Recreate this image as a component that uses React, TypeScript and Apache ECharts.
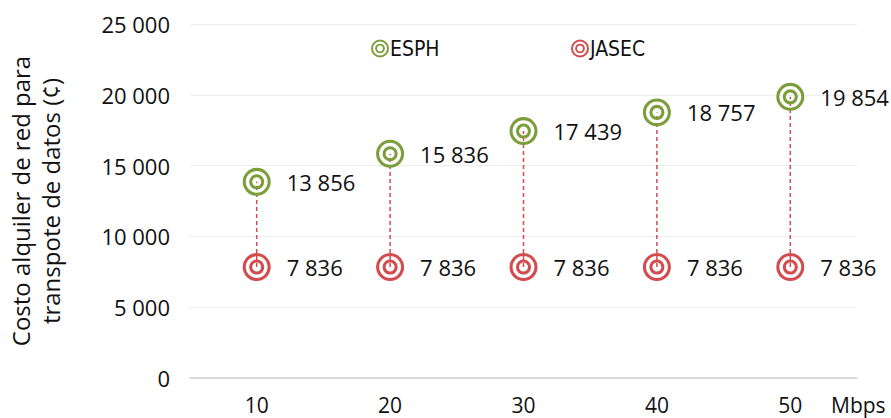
import React, { useEffect, useRef } from "react";
import * as echarts from "echarts";

const categories = ["10", "20", "30", "40", "50"];
const esph = [13856, 15836, 17439, 18757, 19854];
const jasec = [7836, 7836, 7836, 7836, 7836];
const yTicks = [0, 5000, 10000, 15000, 20000, 25000];

const GREEN = "#7b9e3a";
const RED = "#d24b4d";
const FONT = "Open Sans";
const LEGEND_FONT = "'DejaVu Sans Condensed', 'Liberation Sans', sans-serif";

const ringPath =
  "path://M0,50 A50,50 0 1 1 100,50 A50,50 0 1 1 0,50 Z M11,50 A39,39 0 1 0 89,50 A39,39 0 1 0 11,50 Z M23,50 A27,27 0 1 1 77,50 A27,27 0 1 1 23,50 Z M34,50 A16,16 0 1 0 66,50 A16,16 0 1 0 34,50 Z";

const fmt = (v: number) => {
  const s = String(Math.round(v));
  return s.replace(/\B(?=(\d{3})+(?!\d))/g, " ");
};

export default function App() {
  const ref = useRef<HTMLDivElement>(null);
  useEffect(() => {
    if (!ref.current) return;
    const chart = echarts.init(ref.current, undefined, { renderer: "svg" });
    const labelCfg = {
      show: true,
      position: "right" as const,
      distance: 16,
      color: "#111",
      fontSize: 22,
      fontFamily: FONT,
      formatter: (p: any) => fmt(p.value),
    };
    const legendBase = {
      top: 33,
      itemWidth: 18,
      itemHeight: 18,
      icon: ringPath,
      textStyle: {
        fontSize: 21,
        color: "#111",
        fontFamily: LEGEND_FONT,
        padding: [0, 0, 0, -4],
      },
    };
    chart.setOption({
      animation: false,
      textStyle: { fontFamily: FONT },
      grid: { left: 190, right: 34, top: 24, bottom: 40, outerBoundsMode: "none" },
      legend: [
        { ...legendBase, data: ["ESPH"], left: 366 },
        { ...legendBase, data: ["JASEC"], left: 566 },
      ],
      xAxis: {
        type: "category",
        data: categories,
        boundaryGap: true,
        axisLine: { lineStyle: { color: "#d0d0d0", width: 1.5 } },
        axisTick: { alignWithLabel: true, length: 4, lineStyle: { color: "#d0d0d0" } },
        axisLabel: { fontSize: 21, color: "#111", margin: 16, fontFamily: FONT },
      },
      yAxis: {
        type: "value",
        min: 0,
        max: 25000,
        interval: 5000,
        name: "Costo alquiler de red para\ntranspote de datos (¢)",
        nameLocation: "middle",
        nameGap: 125,
        nameTextStyle: { fontSize: 24, color: "#111", lineHeight: 30, fontFamily: FONT },
        axisLine: { show: false },
        axisTick: { show: false },
        axisLabel: {
          fontSize: 22,
          color: "#111",
          margin: 20,
          fontFamily: FONT,
          formatter: (v: number) => (yTicks.includes(v) ? fmt(v) : ""),
        },
        splitLine: { lineStyle: { color: "#eeeeee", width: 1 } },
      },
      graphic: [
        {
          type: "text",
          left: 831,
          top: 394,
          style: { text: "Mbps", fontSize: 21, fill: "#111", fontFamily: FONT },
        },
      ],
      series: [
        {
          type: "custom",
          name: "links",
          z: 1,
          data: categories.map((_, i) => [i, jasec[i], esph[i]]),
          renderItem: (params: any, api: any) => {
            const i = api.value(0);
            const a = api.coord([i, api.value(1)]);
            const b = api.coord([i, api.value(2)]);
            return {
              type: "line",
              shape: { x1: a[0], y1: a[1], x2: b[0], y2: b[1] },
              style: { stroke: RED, lineWidth: 1.5, lineDash: [4, 3] },
            };
          },
          silent: true,
        },
        {
          type: "scatter",
          name: "ESPH",
          z: 3,
          symbol: ringPath,
          symbolSize: 28,
          itemStyle: { color: GREEN, opacity: 1 },
          label: labelCfg,
          data: esph,
        },
        {
          type: "scatter",
          name: "JASEC",
          z: 3,
          symbol: ringPath,
          symbolSize: 28,
          itemStyle: { color: RED, opacity: 1 },
          label: labelCfg,
          data: jasec,
        },
      ],
    });
    return () => chart.dispose();
  }, []);
  return <div ref={ref} style={{ width: 891, height: 418, position: "absolute", left: 0, top: 0 }} />;
}
